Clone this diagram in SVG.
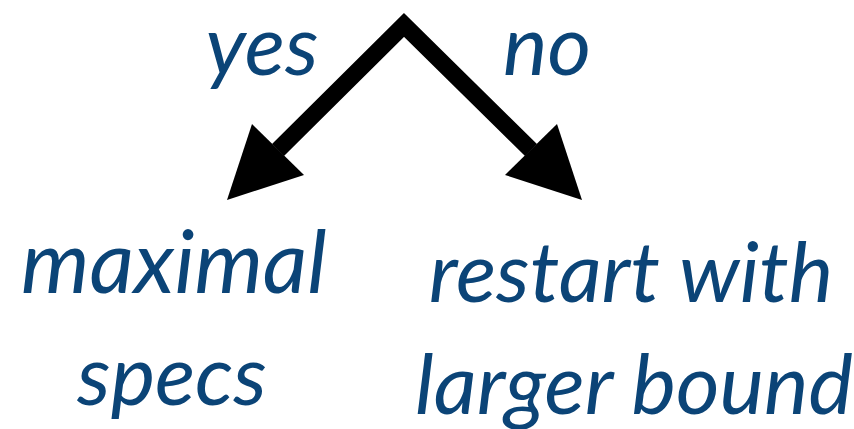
<svg xmlns="http://www.w3.org/2000/svg" width="854" height="429" viewBox="0 0 854 429">
<style>
.t{font-family:Lato,"Open Sans","Liberation Sans",sans-serif;font-style:italic;fill:#0b4477;font-size:84px;text-anchor:middle}
</style>
<rect width="854" height="429" fill="#fff"/>
<g id="connectors">
<path d="M278,150 L404,25 L531,150" fill="none" stroke="#000" stroke-width="17" stroke-linejoin="miter" stroke-miterlimit="10"/>
<polygon points="227,200 252,124 304,175" fill="#000"/>
<polygon points="582,200 557,124 505,175" fill="#000"/>
</g>
<g id="label-yes"><text class="t" x="262" y="75">yes</text></g>
<g id="label-no"><text class="t" x="547" y="75">no</text></g>
<g id="node-maximal"><text class="t" x="174" y="293" style="font-size:87px">maximal</text><text class="t" x="172" y="405">specs</text></g>
<g id="node-restart"><text class="t" x="631" y="302">restart with</text><text class="t" x="634" y="414">larger bound</text></g>
</svg>
